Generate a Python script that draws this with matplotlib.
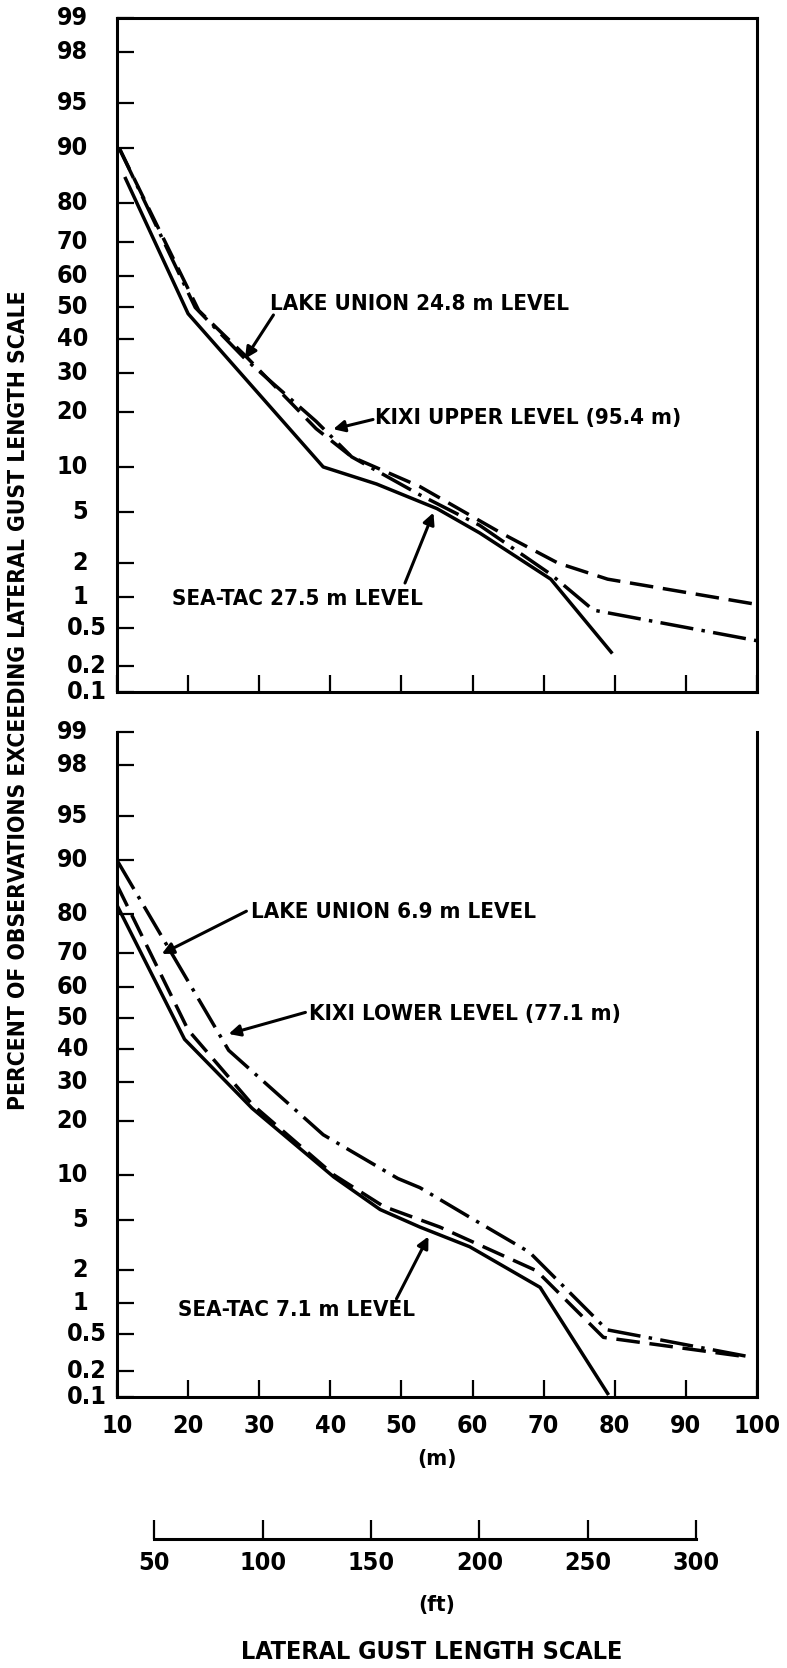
import math
import numpy as np
import matplotlib
matplotlib.use("Agg")
import matplotlib.pyplot as plt
from matplotlib import transforms

plt.rcParams['font.family'] = ['DejaVu Sans']
plt.rcParams['font.stretch'] = 'condensed'
plt.rcParams['lines.scale_dashes'] = False

# lateral gust length scale (m) and percent of observations exceeding it
# upper panel
sea_tac_27_m = [11.2, 20, 39, 46.5, 55, 61, 71, 79.5]
sea_tac_27_p = [85, 48, 10, 7.8, 5.3, 3.5, 1.45, 0.28]
lake_union_24_m = [10.3, 21.5, 28, 38, 43, 52.6, 64, 72, 79, 100]
lake_union_24_p = [90, 49, 35, 16.5, 11.5, 7.5, 3.5, 2.0, 1.45, 0.85]
kixi_upper_m = [10.3, 21, 28, 38, 43, 52.6, 61, 71, 77, 100]
kixi_upper_p = [90, 50, 34, 18, 11.5, 6.6, 4.0, 1.6, 0.75, 0.37]

# lower panel
sea_tac_7_m = [10, 19.5, 29, 40.5, 47, 52.6, 59.6, 69.5, 79]
sea_tac_7_p = [82, 43, 23, 9.7, 5.9, 4.4, 3.1, 1.4, 0.11]
lake_union_7_m = [10, 20, 29, 40.5, 47.5, 55.4, 69, 78.4, 98]
lake_union_7_p = [86, 46, 24, 10, 6.2, 4.4, 1.96, 0.46, 0.29]
kixi_lower_m = [10, 25.7, 39, 49.5, 52.6, 59.6, 68, 78.9, 98.6]
kixi_lower_p = [90, 39.5, 17, 9.5, 8.3, 5.2, 2.8, 0.55, 0.29]

y_ticks = [0.1, 0.2, 0.5, 1, 2, 5, 10, 20, 30, 40, 50, 60, 70, 80, 90, 95, 98, 99]
y_labels = ['0.1', '0.2', '0.5', '1', '2', '5', '10', '20', '30', '40', '50',
            '60', '70', '80', '90', '95', '98', '99']
m_ticks = [10, 20, 30, 40, 50, 60, 70, 80, 90, 100]
ft_ticks = [50, 100, 150, 200, 250, 300]


# normal probability scale (percent -> z), Acklam's approximation
_a = [-3.969683028665376e+01, 2.209460984245205e+02, -2.759285104469687e+02,
      1.383577518672690e+02, -3.066479806614716e+01, 2.506628277459239e+00]
_b = [-5.447609879822406e+01, 1.615858368580409e+02, -1.556989798598866e+02,
      6.680131188771972e+01, -1.328068155288572e+01]
_c = [-7.784894002430293e-03, -3.223964580411365e-01, -2.400758277161838e+00,
      -2.549732539343734e+00, 4.374664141464968e+00, 2.938163982698783e+00]
_d = [7.784695709041462e-03, 3.224671290700398e-01, 2.445134137142996e+00,
      3.754408661907416e+00]


def _ppf1(q):
    if q < 0.02425:
        t = math.sqrt(-2 * math.log(q))
        return (((((_c[0]*t+_c[1])*t+_c[2])*t+_c[3])*t+_c[4])*t+_c[5]) / \
            ((((_d[0]*t+_d[1])*t+_d[2])*t+_d[3])*t+1)
    if q > 1 - 0.02425:
        return -_ppf1(1 - q)
    r = q - 0.5
    s = r * r
    return (((((_a[0]*s+_a[1])*s+_a[2])*s+_a[3])*s+_a[4])*s+_a[5])*r / \
        (((((_b[0]*s+_b[1])*s+_b[2])*s+_b[3])*s+_b[4])*s+1)


def probit(p):
    q = np.clip(np.asarray(p, dtype=float) / 100.0, 1e-9, 1 - 1e-9)
    return np.vectorize(_ppf1, otypes=[float])(q)


def inv_probit(z):
    z = np.asarray(z, dtype=float)
    return 50.0 * (1 + np.vectorize(math.erf, otypes=[float])(z / math.sqrt(2)))


fig = plt.figure(figsize=(7.87, 16.68), dpi=100)
W, H = 787, 1668


def ax_rect(x0, y0, x1, y1):
    return [x0 / W, 1 - y1 / H, (x1 - x0) / W, (y1 - y0) / H]


ax_top = fig.add_axes(ax_rect(117, 18, 757, 692))
ax_bot = fig.add_axes(ax_rect(117, 732, 757, 1397))

solid = dict(color='black', lw=2.5, solid_joinstyle='round')
dashed = dict(color='black', lw=2.5, dashes=[17, 7])
dashdot = dict(color='black', lw=2.5, dashes=[24, 6, 2.5, 6])

ax_top.plot(sea_tac_27_m, sea_tac_27_p, **solid)
ax_top.plot(lake_union_24_m, lake_union_24_p, **dashed)
ax_top.plot(kixi_upper_m, kixi_upper_p, **dashdot)

ax_bot.plot(sea_tac_7_m, sea_tac_7_p, **solid)
ax_bot.plot(lake_union_7_m, lake_union_7_p, **dashed)
ax_bot.plot(kixi_lower_m, kixi_lower_p, **dashdot)

for ax in (ax_top, ax_bot):
    ax.set_yscale('function', functions=(probit, inv_probit))
    ax.set_ylim(0.1, 99)
    ax.set_xlim(10, 100)
    ax.set_yticks(y_ticks)
    ax.set_xticks(m_ticks)
    ax.yaxis.set_minor_locator(plt.NullLocator())
    ax.tick_params(direction='in', length=12, width=1.6, labelsize=18, pad=12)
    ax.tick_params(axis='y', labelleft=False)
    for sp in ax.spines.values():
        sp.set_linewidth(2.2)
    for lab in ax.get_xticklabels():
        lab.set_fontweight('bold')
    # percent labels: whole numbers right-aligned, decimals lined up on the point
    trans = transforms.blended_transform_factory(ax.transAxes, ax.transData)
    for val, lab in zip(y_ticks, y_labels):
        xoff = -10 / 640 if '.' in lab else -29 / 640
        ax.text(xoff, val, lab, transform=trans, ha='right', va='center',
                fontsize=18, fontweight='bold')

ax_top.tick_params(axis='x', labelbottom=False)
ax_bot.spines['top'].set_visible(False)
ax_bot.set_xlabel('(m)', fontsize=16, fontweight='bold', labelpad=8)

# feet scale below
ft = ax_bot.secondary_xaxis(-0.2135, functions=(lambda m: m / 0.3048, lambda f: f * 0.3048))
ft.set_xticks(ft_ticks)
ft.spines['bottom'].set_bounds(50, 300)
ft.spines['bottom'].set_linewidth(2.2)
ft.tick_params(direction='in', length=14, width=1.6, labelsize=18, pad=9)
for lab in ft.get_xticklabels():
    lab.set_fontweight('bold')
ft.set_xlabel('(ft)', fontsize=16, fontweight='bold', labelpad=14)

fig.text(0.024, 0.58, 'PERCENT OF OBSERVATIONS EXCEEDING LATERAL GUST LENGTH SCALE',
         rotation=90, ha='center', va='center', fontsize=16.4, fontweight='bold')
fig.text(0.548, 0.0096, 'LATERAL GUST LENGTH SCALE', ha='center', va='center',
         fontsize=18, fontweight='bold')

arrow = dict(arrowstyle='-|>', color='black', lw=2.2, mutation_scale=17, shrinkA=0, shrinkB=0)
note = dict(ha='left', va='center_baseline', fontsize=16, fontweight='bold')

ax_top.text(31.5, 51.7, 'LAKE UNION 24.8 m LEVEL', **note)
ax_top.annotate('', xy=(28, 34), xytext=(32, 47.6), arrowprops=arrow)
ax_top.text(46.3, 19.2, 'KIXI UPPER LEVEL (95.4 m)', **note)
ax_top.annotate('', xy=(40.4, 16.4), xytext=(46.0, 18.4), arrowprops=arrow)
ax_top.text(17.7, 1.0, 'SEA-TAC 27.5 m LEVEL', **note)
ax_top.annotate('', xy=(54.5, 4.96), xytext=(50.5, 1.34), arrowprops=arrow)

ax_bot.text(28.9, 81, 'LAKE UNION 6.9 m LEVEL', **note)
ax_bot.annotate('', xy=(16.3, 69.8), xytext=(28.2, 80.7), arrowprops=arrow)
ax_bot.text(37.0, 51.7, 'KIXI LOWER LEVEL (77.1 m)', **note)
ax_bot.annotate('', xy=(25.7, 44.7), xytext=(36.5, 51.7), arrowprops=arrow)
ax_bot.text(18.6, 0.9, 'SEA-TAC 7.1 m LEVEL', **note)
ax_bot.annotate('', xy=(53.8, 3.73), xytext=(49.3, 1.1), arrowprops=arrow)

fig.savefig('out.png', dpi=100)
